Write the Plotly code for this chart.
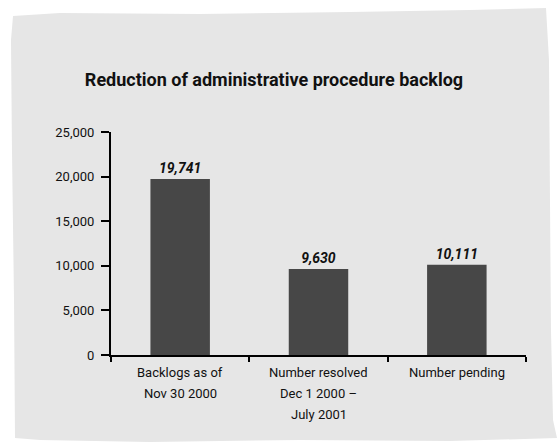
import plotly.graph_objects as go

# Backlog figures
categories = ["Backlogs as of Nov 30 2000", "Number resolved Dec 1 2000 – July 2001", "Number pending"]
label_lines = [["Backlogs as of", "Nov 30 2000"],
               ["Number resolved", "Dec 1 2000 –", "July 2001"],
               ["Number pending"]]
values = [19741, 9630, 10111]
y_ticks = [0, 5000, 10000, 15000, 20000, 25000]
y_tick_text = ["0", "5,000", "10,000", "15,000", "20,000", "25,000"]

FONT = "Roboto, Liberation Sans, sans-serif"
W, H = 557, 448
ML, MR, MT, MB = 111, 31, 132, 93
PW, PH = W - ML - MR, H - MT - MB


def to_paper(px, py):
    """Figure pixel position -> plot-area paper coordinates."""
    return (px - ML) / PW, (H - MB - py) / PH


# rough light-grey backing panel, outlined in figure pixels
panel_px = [(13, 16), (60, 13), (200, 14), (350, 12), (470, 10), (546, 8),
            (549, 60), (550, 200), (551, 330), (553, 420), (557, 438),
            (450, 441), (300, 440), (150, 442), (40, 440), (15, 438),
            (14, 300), (12, 150), (11, 40)]
pts = [to_paper(x, y) for x, y in panel_px]
panel = "M " + " L ".join(f"{x:.4f} {y:.4f}" for x, y in pts) + " Z"

fig = go.Figure()
fig.add_trace(go.Bar(
    x=categories, y=values,
    width=0.43,
    marker=dict(color="#474747", line=dict(width=0)),
    text=[f"<b><i>{v:,}</i></b>" for v in values],
    textposition="outside",
    textfont=dict(family=FONT, size=14, color="#111111"),
    cliponaxis=False,
    hoverinfo="skip",
))

# multi-line category labels under the axis
annotations = []
for cat, lines in zip(categories, label_lines):
    for i, line in enumerate(lines):
        annotations.append(dict(
            x=cat, y=0, xref="x", yref="y", text=line, showarrow=False,
            yanchor="middle", xanchor="center", yshift=-17 - 21 * i,
            font=dict(family=FONT, size=13, color="#111111"),
        ))

fig.update_layout(
    width=W, height=H,
    margin=dict(l=ML, r=MR, t=MT, b=MB),
    paper_bgcolor="white",
    plot_bgcolor="rgba(0,0,0,0)",
    showlegend=False,
    title=dict(text="<b>Reduction of administrative procedure backlog</b>",
               x=274 / W, xanchor="center", y=1 - 80 / H, yanchor="middle",
               xref="container",
               font=dict(family=FONT, size=18, color="#111111")),
    font=dict(family=FONT, size=13, color="#111111"),
    shapes=[dict(type="path", xref="paper", yref="paper", path=panel,
                 fillcolor="#e6e6e6", line=dict(width=0), layer="below")],
    annotations=annotations,
)

fig.update_xaxes(
    showline=True, linecolor="black", linewidth=2,
    ticks="outside", tickson="boundaries", ticklen=5, tickwidth=2, tickcolor="black",
    showticklabels=False, showgrid=False, zeroline=False,
)
fig.update_yaxes(
    range=[0, 25000], tickvals=y_ticks, ticktext=y_tick_text,
    showline=True, linecolor="black", linewidth=2,
    ticks="outside", ticklen=8, tickwidth=2, tickcolor="black",
    ticklabelstandoff=4,
    showgrid=False, zeroline=False,
    tickfont=dict(family=FONT, size=13, color="#111111"),
)

fig.write_html("out.html")
